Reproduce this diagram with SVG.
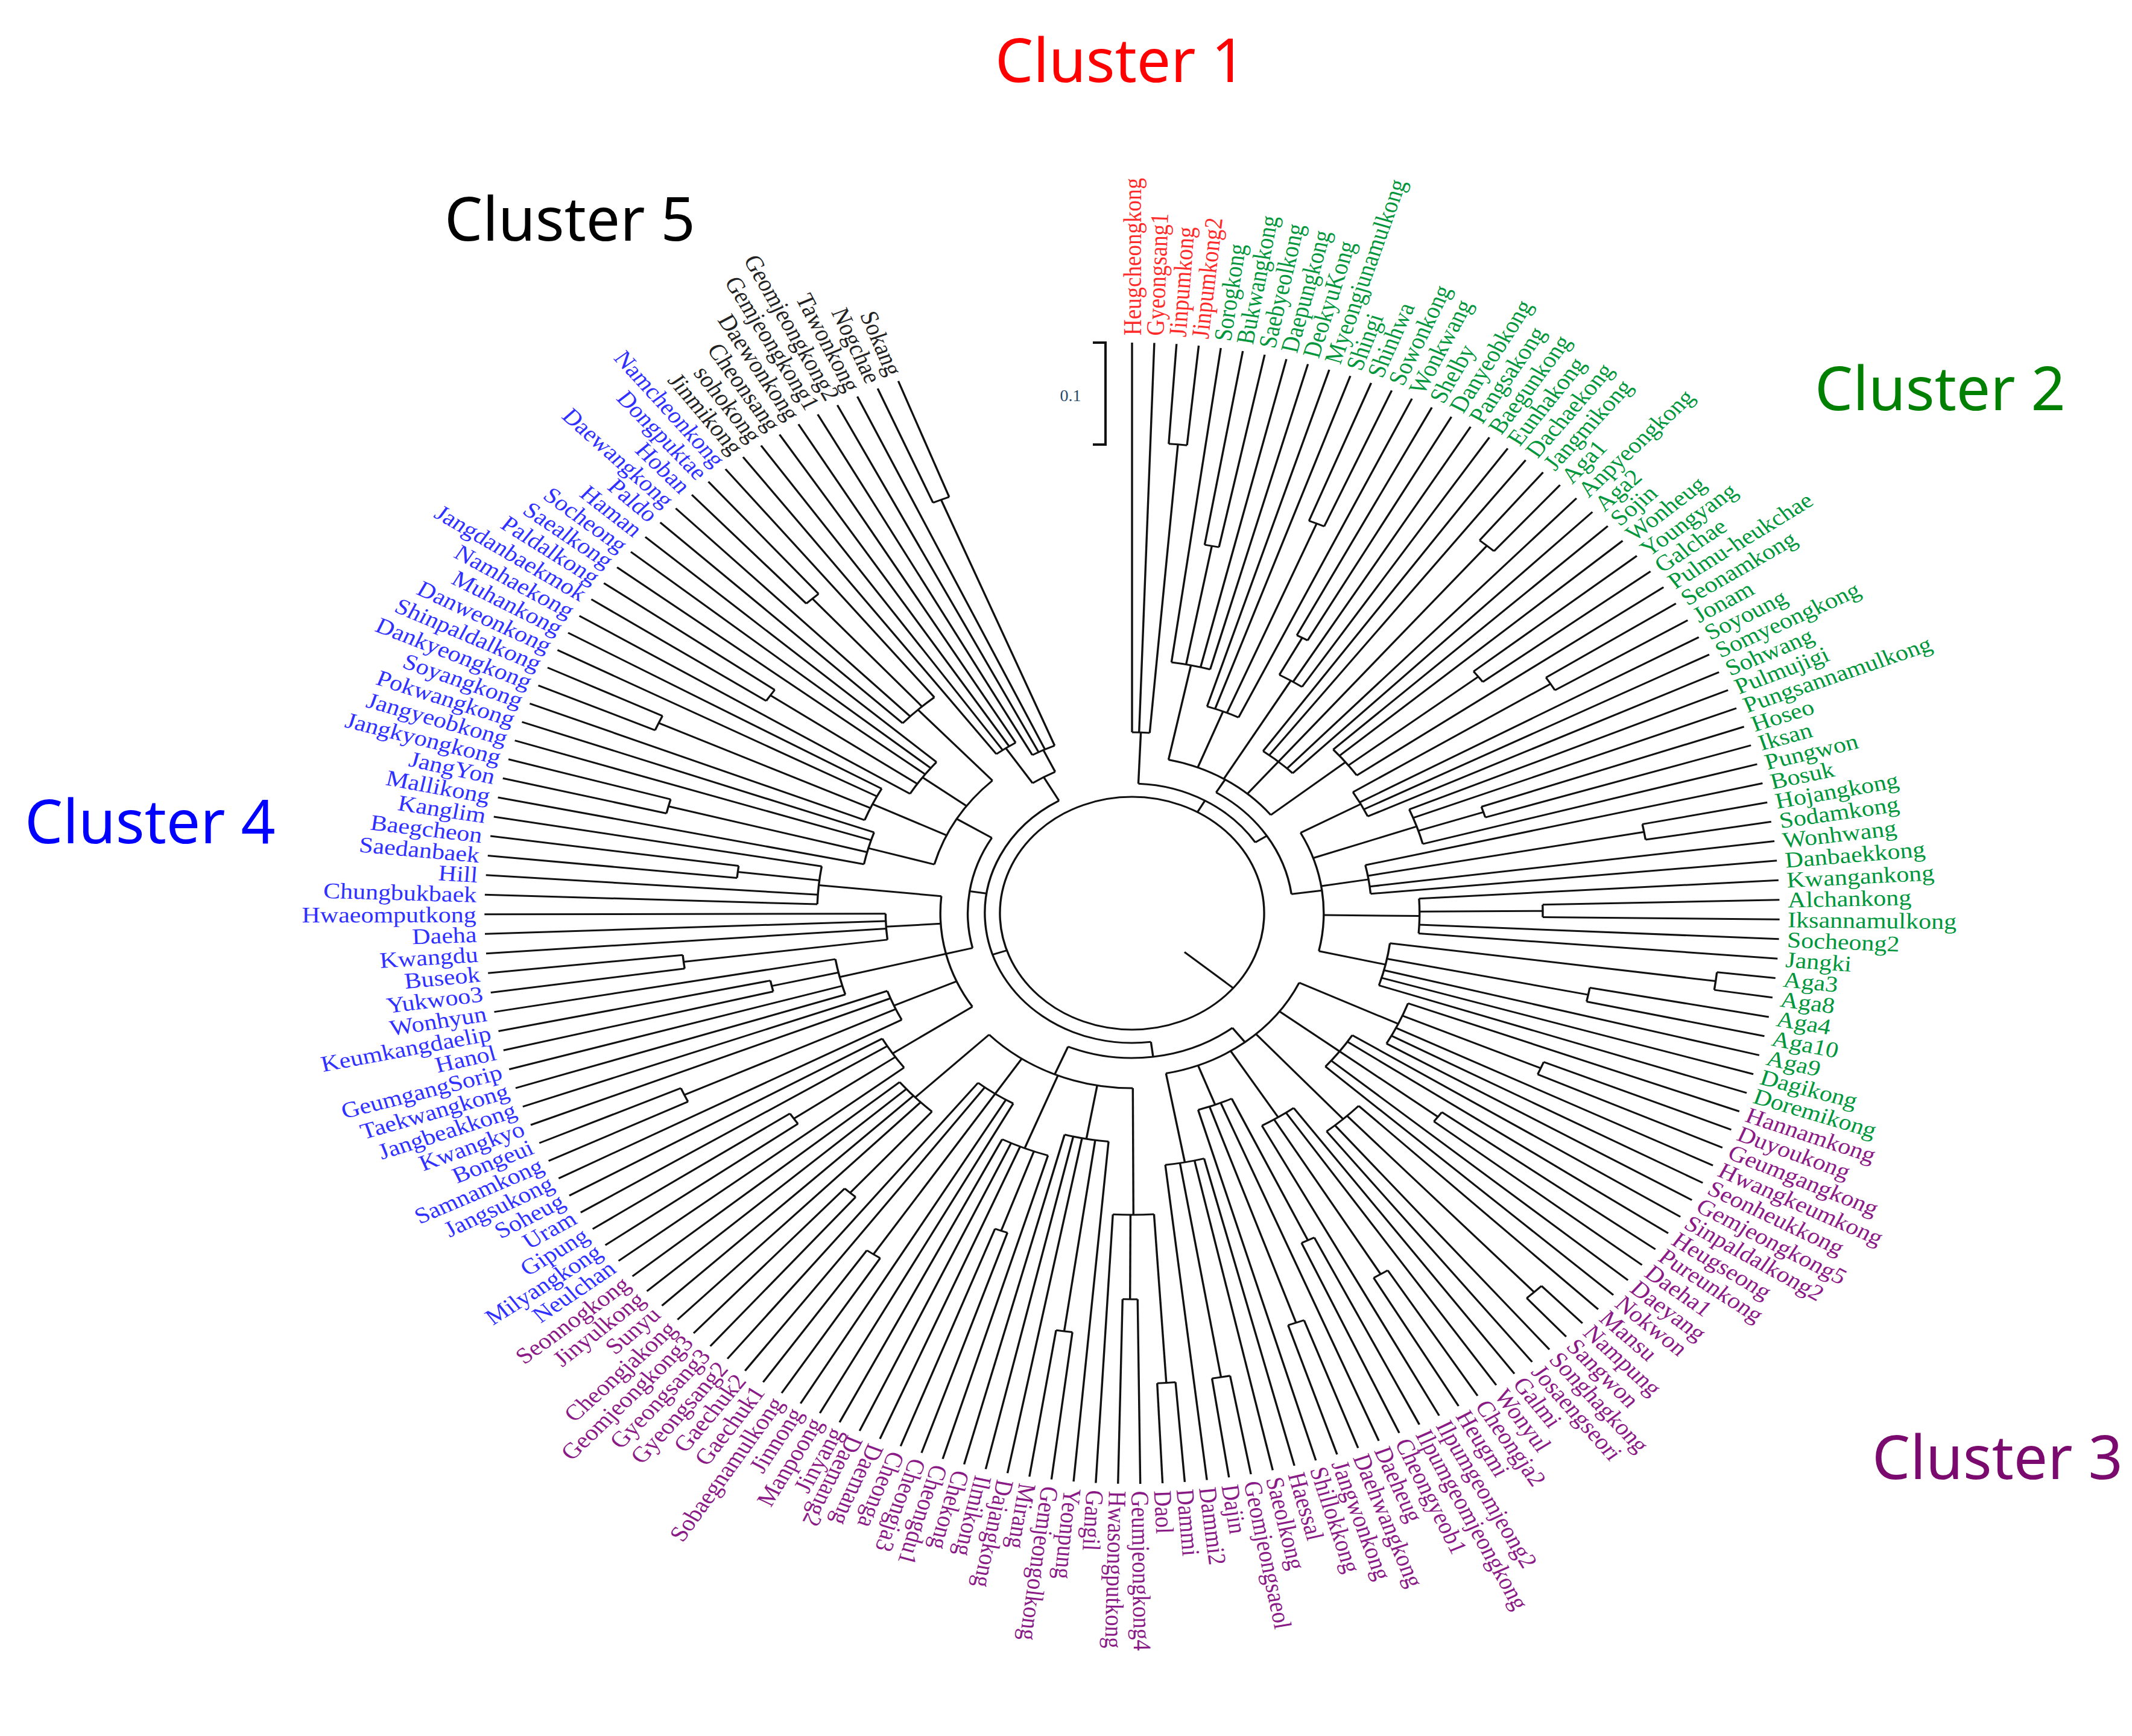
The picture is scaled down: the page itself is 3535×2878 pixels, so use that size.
<svg xmlns="http://www.w3.org/2000/svg" width="3535" height="2878" viewBox="0 0 3535 2878">
<style>
.t{font-family:"Liberation Serif","Times New Roman",serif;font-size:37px}
.L{text-anchor:end}
.k1{fill:#ff2a2a}.k2{fill:#00963c}.k3{fill:#8a1a85}.k4{fill:#3030ff}.k5{fill:#222}
.ct{font-family:"Noto Sans","Open Sans",sans-serif;font-size:100px}
#conn line,#conn circle{stroke:#111;stroke-width:3;fill:none}
</style>
<rect width="3535" height="2878" fill="#fff"/>
<text class="ct" x="1650" y="136" fill="#ff0000">Cluster 1</text>
<text class="ct" x="737" y="399" fill="#000">Cluster 5</text>
<text class="ct" x="3009" y="680" fill="#008000">Cluster 2</text>
<text class="ct" x="41" y="1398" fill="#0000ff">Cluster 4</text>
<text class="ct" x="3104" y="2452" fill="#7a0a6e">Cluster 3</text>
<g id="scalebar" stroke="#111" stroke-width="4" fill="none">
<path d="M1812 568H1833V737H1812"/>
</g>
<text x="1775" y="665" font-family="Liberation Serif,serif" font-size="28" fill="#2a4a6a" text-anchor="middle">0.1</text>
<g transform="translate(1877 1514) scale(1.135 1)">
<g id="conn">
<circle r="193"/>
<line transform="rotate(130)" y1="-100" y2="-193"/>
<line transform="rotate(0)" y1="-946" y2="-300"/><line transform="rotate(1.97)" y1="-946" y2="-300"/><line transform="rotate(3.94)" y1="-946" y2="-780"/><line transform="rotate(5.91)" y1="-946" y2="-780"/>
<line transform="rotate(7.88)" y1="-946" y2="-420"/><line transform="rotate(9.85)" y1="-946" y2="-620"/><line transform="rotate(11.82)" y1="-946" y2="-620"/><line transform="rotate(13.79)" y1="-946" y2="-420"/><line transform="rotate(15.76)" y1="-946" y2="-420"/>
<line transform="rotate(17.73)" y1="-946" y2="-360"/><line transform="rotate(19.7)" y1="-946" y2="-360"/><line transform="rotate(21.67)" y1="-946" y2="-700"/><line transform="rotate(23.64)" y1="-946" y2="-700"/><line transform="rotate(25.61)" y1="-946" y2="-360"/>
<line transform="rotate(27.58)" y1="-946" y2="-520"/><line transform="rotate(29.55)" y1="-946" y2="-520"/><line transform="rotate(31.52)" y1="-946" y2="-450"/><line transform="rotate(33.49)" y1="-946" y2="-450"/>
<line transform="rotate(35.46)" y1="-946" y2="-330"/><line transform="rotate(37.43)" y1="-946" y2="-330"/><line transform="rotate(39.4)" y1="-946" y2="-800"/><line transform="rotate(41.37)" y1="-946" y2="-800"/><line transform="rotate(43.34)" y1="-946" y2="-330"/><line transform="rotate(45.31)" y1="-946" y2="-330"/>
<line transform="rotate(47.28)" y1="-946" y2="-400"/><line transform="rotate(49.25)" y1="-946" y2="-400"/><line transform="rotate(51.22)" y1="-946" y2="-640"/><line transform="rotate(53.19)" y1="-946" y2="-640"/><line transform="rotate(55.16)" y1="-946" y2="-400"/>
<line transform="rotate(57.13)" y1="-946" y2="-720"/><line transform="rotate(59.1)" y1="-946" y2="-720"/><line transform="rotate(61.07)" y1="-946" y2="-380"/><line transform="rotate(63.04)" y1="-946" y2="-380"/><line transform="rotate(65.01)" y1="-946" y2="-380"/>
<line transform="rotate(66.98)" y1="-946" y2="-440"/><line transform="rotate(68.95)" y1="-946" y2="-440"/><line transform="rotate(70.92)" y1="-946" y2="-540"/><line transform="rotate(72.89)" y1="-946" y2="-540"/><line transform="rotate(74.86)" y1="-946" y2="-440"/>
<line transform="rotate(76.83)" y1="-946" y2="-350"/><line transform="rotate(78.8)" y1="-946" y2="-760"/><line transform="rotate(80.77)" y1="-946" y2="-760"/><line transform="rotate(82.74)" y1="-946" y2="-350"/><line transform="rotate(84.71)" y1="-946" y2="-350"/>
<line transform="rotate(86.68)" y1="-946" y2="-420"/><line transform="rotate(88.65)" y1="-946" y2="-600"/><line transform="rotate(90.62)" y1="-946" y2="-600"/><line transform="rotate(92.59)" y1="-946" y2="-420"/><line transform="rotate(94.56)" y1="-946" y2="-420"/>
<line transform="rotate(96.53)" y1="-946" y2="-860"/><line transform="rotate(98.5)" y1="-946" y2="-860"/><line transform="rotate(100.47)" y1="-946" y2="-680"/><line transform="rotate(102.44)" y1="-946" y2="-680"/><line transform="rotate(104.41)" y1="-946" y2="-380"/><line transform="rotate(106.38)" y1="-946" y2="-380"/><line transform="rotate(108.35)" y1="-946" y2="-380"/>
<line transform="rotate(110.32)" y1="-946" y2="-430"/><line transform="rotate(112.29)" y1="-946" y2="-650"/><line transform="rotate(114.26)" y1="-946" y2="-650"/><line transform="rotate(116.23)" y1="-946" y2="-430"/><line transform="rotate(118.2)" y1="-946" y2="-430"/><line transform="rotate(120.17)" y1="-946" y2="-430"/>
<line transform="rotate(122.14)" y1="-946" y2="-380"/><line transform="rotate(124.11)" y1="-946" y2="-380"/><line transform="rotate(126.08)" y1="-946" y2="-560"/><line transform="rotate(128.05)" y1="-946" y2="-560"/><line transform="rotate(130.02)" y1="-946" y2="-380"/><line transform="rotate(131.99)" y1="-946" y2="-380"/>
<line transform="rotate(133.96)" y1="-946" y2="-460"/><line transform="rotate(135.93)" y1="-946" y2="-860"/><line transform="rotate(137.9)" y1="-946" y2="-860"/><line transform="rotate(139.87)" y1="-946" y2="-460"/><line transform="rotate(141.84)" y1="-946" y2="-460"/>
<line transform="rotate(143.81)" y1="-946" y2="-400"/><line transform="rotate(145.78)" y1="-946" y2="-400"/><line transform="rotate(147.75)" y1="-946" y2="-700"/><line transform="rotate(149.72)" y1="-946" y2="-700"/><line transform="rotate(151.69)" y1="-946" y2="-400"/>
<line transform="rotate(153.66)" y1="-946" y2="-600"/><line transform="rotate(155.63)" y1="-946" y2="-600"/><line transform="rotate(157.6)" y1="-946" y2="-340"/><line transform="rotate(159.57)" y1="-946" y2="-720"/><line transform="rotate(161.54)" y1="-946" y2="-720"/><line transform="rotate(163.51)" y1="-946" y2="-340"/>
<line transform="rotate(165.48)" y1="-946" y2="-420"/><line transform="rotate(167.45)" y1="-946" y2="-420"/><line transform="rotate(169.42)" y1="-946" y2="-780"/><line transform="rotate(171.39)" y1="-946" y2="-780"/><line transform="rotate(173.36)" y1="-946" y2="-420"/>
<line transform="rotate(175.33)" y1="-946" y2="-780"/><line transform="rotate(177.3)" y1="-946" y2="-780"/><line transform="rotate(179.27)" y1="-946" y2="-640"/><line transform="rotate(181.24)" y1="-946" y2="-640"/><line transform="rotate(183.21)" y1="-946" y2="-500"/>
<line transform="rotate(185.18)" y1="-946" y2="-380"/><line transform="rotate(187.15)" y1="-946" y2="-700"/><line transform="rotate(189.12)" y1="-946" y2="-700"/><line transform="rotate(191.09)" y1="-946" y2="-380"/><line transform="rotate(193.06)" y1="-946" y2="-380"/><line transform="rotate(195.03)" y1="-946" y2="-380"/>
<line transform="rotate(197)" y1="-946" y2="-420"/><line transform="rotate(198.97)" y1="-946" y2="-560"/><line transform="rotate(200.94)" y1="-946" y2="-560"/><line transform="rotate(202.91)" y1="-946" y2="-420"/><line transform="rotate(204.88)" y1="-946" y2="-420"/><line transform="rotate(206.85)" y1="-946" y2="-420"/>
<line transform="rotate(208.82)" y1="-946" y2="-360"/><line transform="rotate(210.79)" y1="-946" y2="-360"/><line transform="rotate(212.76)" y1="-946" y2="-680"/><line transform="rotate(214.73)" y1="-946" y2="-680"/><line transform="rotate(216.7)" y1="-946" y2="-360"/><line transform="rotate(218.67)" y1="-946" y2="-360"/>
<line transform="rotate(220.64)" y1="-946" y2="-620"/><line transform="rotate(222.61)" y1="-946" y2="-620"/><line transform="rotate(224.58)" y1="-946" y2="-440"/><line transform="rotate(226.55)" y1="-946" y2="-440"/><line transform="rotate(228.52)" y1="-946" y2="-440"/><line transform="rotate(230.49)" y1="-946" y2="-440"/>
<line transform="rotate(232.46)" y1="-946" y2="-420"/><line transform="rotate(234.43)" y1="-946" y2="-600"/><line transform="rotate(236.4)" y1="-946" y2="-600"/><line transform="rotate(238.37)" y1="-946" y2="-420"/><line transform="rotate(240.34)" y1="-946" y2="-420"/>
<line transform="rotate(242.31)" y1="-946" y2="-380"/><line transform="rotate(244.28)" y1="-946" y2="-720"/><line transform="rotate(246.25)" y1="-946" y2="-720"/><line transform="rotate(248.22)" y1="-946" y2="-380"/><line transform="rotate(250.19)" y1="-946" y2="-380"/>
<line transform="rotate(252.16)" y1="-946" y2="-440"/><line transform="rotate(254.13)" y1="-946" y2="-440"/><line transform="rotate(256.1)" y1="-946" y2="-540"/><line transform="rotate(258.07)" y1="-946" y2="-540"/><line transform="rotate(260.04)" y1="-946" y2="-440"/>
<line transform="rotate(262.01)" y1="-946" y2="-660"/><line transform="rotate(263.98)" y1="-946" y2="-660"/><line transform="rotate(265.95)" y1="-946" y2="-360"/><line transform="rotate(267.92)" y1="-946" y2="-360"/><line transform="rotate(269.89)" y1="-946" y2="-360"/>
<line transform="rotate(271.86)" y1="-946" y2="-460"/><line transform="rotate(273.83)" y1="-946" y2="-460"/><line transform="rotate(275.8)" y1="-946" y2="-580"/><line transform="rotate(277.77)" y1="-946" y2="-580"/><line transform="rotate(279.74)" y1="-946" y2="-460"/>
<line transform="rotate(281.71)" y1="-946" y2="-400"/><line transform="rotate(283.68)" y1="-946" y2="-700"/><line transform="rotate(285.65)" y1="-946" y2="-700"/><line transform="rotate(287.62)" y1="-946" y2="-400"/><line transform="rotate(289.59)" y1="-946" y2="-400"/>
<line transform="rotate(291.56)" y1="-946" y2="-420"/><line transform="rotate(293.53)" y1="-946" y2="-760"/><line transform="rotate(295.5)" y1="-946" y2="-760"/><line transform="rotate(297.47)" y1="-946" y2="-420"/><line transform="rotate(299.44)" y1="-946" y2="-420"/>
<line transform="rotate(301.41)" y1="-946" y2="-380"/><line transform="rotate(303.38)" y1="-946" y2="-640"/><line transform="rotate(305.35)" y1="-946" y2="-640"/><line transform="rotate(307.32)" y1="-946" y2="-380"/><line transform="rotate(309.29)" y1="-946" y2="-380"/><line transform="rotate(311.26)" y1="-946" y2="-380"/>
<line transform="rotate(313.23)" y1="-946" y2="-460"/><line transform="rotate(315.2)" y1="-946" y2="-460"/><line transform="rotate(317.17)" y1="-946" y2="-700"/><line transform="rotate(319.14)" y1="-946" y2="-700"/><line transform="rotate(321.11)" y1="-946" y2="-460"/>
<line transform="rotate(323.08)" y1="-946" y2="-330"/><line transform="rotate(325.05)" y1="-946" y2="-330"/><line transform="rotate(327.02)" y1="-946" y2="-330"/><line transform="rotate(328.99)" y1="-946" y2="-330"/><line transform="rotate(330.96)" y1="-946" y2="-300"/><line transform="rotate(332.93)" y1="-946" y2="-300"/><line transform="rotate(334.9)" y1="-946" y2="-300"/><line transform="rotate(336.87)" y1="-946" y2="-740"/><line transform="rotate(338.84)" y1="-946" y2="-740"/>
<circle r="780" pathLength="360" stroke-dasharray="1.97 400" transform="rotate(3.94) rotate(-90)"/><line transform="rotate(4.93)" y1="-780" y2="-300"/>
<circle r="620" pathLength="360" stroke-dasharray="1.97 400" transform="rotate(9.85) rotate(-90)"/><line transform="rotate(10.84)" y1="-620" y2="-420"/>
<circle r="700" pathLength="360" stroke-dasharray="1.97 400" transform="rotate(21.67) rotate(-90)"/><line transform="rotate(22.66)" y1="-700" y2="-360"/>
<circle r="520" pathLength="360" stroke-dasharray="1.97 400" transform="rotate(27.58) rotate(-90)"/><line transform="rotate(28.57)" y1="-520" y2="-450"/>
<circle r="800" pathLength="360" stroke-dasharray="1.97 400" transform="rotate(39.4) rotate(-90)"/><line transform="rotate(40.39)" y1="-800" y2="-330"/>
<circle r="640" pathLength="360" stroke-dasharray="1.97 400" transform="rotate(51.22) rotate(-90)"/><line transform="rotate(52.21)" y1="-640" y2="-400"/>
<circle r="720" pathLength="360" stroke-dasharray="1.97 400" transform="rotate(57.13) rotate(-90)"/><line transform="rotate(58.12)" y1="-720" y2="-380"/>
<circle r="540" pathLength="360" stroke-dasharray="1.97 400" transform="rotate(70.92) rotate(-90)"/><line transform="rotate(71.91)" y1="-540" y2="-440"/>
<circle r="760" pathLength="360" stroke-dasharray="1.97 400" transform="rotate(78.8) rotate(-90)"/><line transform="rotate(79.79)" y1="-760" y2="-350"/>
<circle r="600" pathLength="360" stroke-dasharray="1.97 400" transform="rotate(88.65) rotate(-90)"/><line transform="rotate(89.64)" y1="-600" y2="-420"/>
<circle r="860" pathLength="360" stroke-dasharray="1.97 400" transform="rotate(96.53) rotate(-90)"/><line transform="rotate(97.52)" y1="-860" y2="-380"/>
<circle r="680" pathLength="360" stroke-dasharray="1.97 400" transform="rotate(100.47) rotate(-90)"/><line transform="rotate(101.46)" y1="-680" y2="-380"/>
<circle r="650" pathLength="360" stroke-dasharray="1.97 400" transform="rotate(112.29) rotate(-90)"/><line transform="rotate(113.28)" y1="-650" y2="-430"/>
<circle r="560" pathLength="360" stroke-dasharray="1.97 400" transform="rotate(126.08) rotate(-90)"/><line transform="rotate(127.07)" y1="-560" y2="-380"/>
<circle r="860" pathLength="360" stroke-dasharray="1.97 400" transform="rotate(135.93) rotate(-90)"/><line transform="rotate(136.92)" y1="-860" y2="-460"/>
<circle r="700" pathLength="360" stroke-dasharray="1.97 400" transform="rotate(147.75) rotate(-90)"/><line transform="rotate(148.74)" y1="-700" y2="-400"/>
<circle r="600" pathLength="360" stroke-dasharray="1.97 400" transform="rotate(153.66) rotate(-90)"/><line transform="rotate(154.65)" y1="-600" y2="-340"/>
<circle r="720" pathLength="360" stroke-dasharray="1.97 400" transform="rotate(159.57) rotate(-90)"/><line transform="rotate(160.56)" y1="-720" y2="-340"/>
<circle r="780" pathLength="360" stroke-dasharray="1.97 400" transform="rotate(169.42) rotate(-90)"/><line transform="rotate(170.41)" y1="-780" y2="-420"/>
<circle r="780" pathLength="360" stroke-dasharray="1.97 400" transform="rotate(175.33) rotate(-90)"/><line transform="rotate(176.32)" y1="-780" y2="-500"/>
<circle r="640" pathLength="360" stroke-dasharray="1.97 400" transform="rotate(179.27) rotate(-90)"/><line transform="rotate(180.26)" y1="-640" y2="-500"/>
<circle r="700" pathLength="360" stroke-dasharray="1.97 400" transform="rotate(187.15) rotate(-90)"/><line transform="rotate(188.14)" y1="-700" y2="-380"/>
<circle r="560" pathLength="360" stroke-dasharray="1.97 400" transform="rotate(198.97) rotate(-90)"/><line transform="rotate(199.96)" y1="-560" y2="-420"/>
<circle r="680" pathLength="360" stroke-dasharray="1.97 400" transform="rotate(212.76) rotate(-90)"/><line transform="rotate(213.75)" y1="-680" y2="-360"/>
<circle r="620" pathLength="360" stroke-dasharray="1.97 400" transform="rotate(220.64) rotate(-90)"/><line transform="rotate(221.63)" y1="-620" y2="-440"/>
<circle r="600" pathLength="360" stroke-dasharray="1.97 400" transform="rotate(234.43) rotate(-90)"/><line transform="rotate(235.42)" y1="-600" y2="-420"/>
<circle r="720" pathLength="360" stroke-dasharray="1.97 400" transform="rotate(244.28) rotate(-90)"/><line transform="rotate(245.27)" y1="-720" y2="-380"/>
<circle r="540" pathLength="360" stroke-dasharray="1.97 400" transform="rotate(256.1) rotate(-90)"/><line transform="rotate(257.09)" y1="-540" y2="-440"/>
<circle r="660" pathLength="360" stroke-dasharray="1.97 400" transform="rotate(262.01) rotate(-90)"/><line transform="rotate(263)" y1="-660" y2="-360"/>
<circle r="580" pathLength="360" stroke-dasharray="1.97 400" transform="rotate(275.8) rotate(-90)"/><line transform="rotate(276.79)" y1="-580" y2="-460"/>
<circle r="700" pathLength="360" stroke-dasharray="1.97 400" transform="rotate(283.68) rotate(-90)"/><line transform="rotate(284.67)" y1="-700" y2="-400"/>
<circle r="760" pathLength="360" stroke-dasharray="1.97 400" transform="rotate(293.53) rotate(-90)"/><line transform="rotate(294.52)" y1="-760" y2="-420"/>
<circle r="640" pathLength="360" stroke-dasharray="1.97 400" transform="rotate(303.38) rotate(-90)"/><line transform="rotate(304.37)" y1="-640" y2="-380"/>
<circle r="700" pathLength="360" stroke-dasharray="1.97 400" transform="rotate(317.17) rotate(-90)"/><line transform="rotate(318.16)" y1="-700" y2="-460"/>
<circle r="740" pathLength="360" stroke-dasharray="1.97 400" transform="rotate(336.87) rotate(-90)"/><line transform="rotate(337.86)" y1="-740" y2="-300"/>
<circle r="300" pathLength="360" stroke-dasharray="4.93 400" transform="rotate(0) rotate(-90)"/><line transform="rotate(2.46)" y1="-300" y2="-215"/>
<circle r="420" pathLength="360" stroke-dasharray="7.88 400" transform="rotate(7.88) rotate(-90)"/><line transform="rotate(11.82)" y1="-420" y2="-260"/>
<circle r="360" pathLength="360" stroke-dasharray="7.88 400" transform="rotate(17.73) rotate(-90)"/><line transform="rotate(21.67)" y1="-360" y2="-260"/>
<circle r="450" pathLength="360" stroke-dasharray="4.92 400" transform="rotate(28.57) rotate(-90)"/><line transform="rotate(31.03)" y1="-450" y2="-260"/>
<circle r="330" pathLength="360" stroke-dasharray="9.85 400" transform="rotate(35.46) rotate(-90)"/><line transform="rotate(40.39)" y1="-330" y2="-260"/>
<circle r="400" pathLength="360" stroke-dasharray="7.88 400" transform="rotate(47.28) rotate(-90)"/><line transform="rotate(51.22)" y1="-400" y2="-260"/>
<circle r="380" pathLength="360" stroke-dasharray="6.89 400" transform="rotate(58.12) rotate(-90)"/><line transform="rotate(61.56)" y1="-380" y2="-280"/>
<circle r="440" pathLength="360" stroke-dasharray="7.88 400" transform="rotate(66.98) rotate(-90)"/><line transform="rotate(70.92)" y1="-440" y2="-280"/>
<circle r="350" pathLength="360" stroke-dasharray="7.88 400" transform="rotate(76.83) rotate(-90)"/><line transform="rotate(80.77)" y1="-350" y2="-280"/>
<circle r="420" pathLength="360" stroke-dasharray="7.88 400" transform="rotate(86.68) rotate(-90)"/><line transform="rotate(90.62)" y1="-420" y2="-280"/>
<circle r="380" pathLength="360" stroke-dasharray="10.83 400" transform="rotate(97.52) rotate(-90)"/><line transform="rotate(102.94)" y1="-380" y2="-280"/>
<circle r="260" pathLength="360" stroke-dasharray="39.4 400" transform="rotate(11.82) rotate(-90)"/><line transform="rotate(31.52)" y1="-260" y2="-235"/>
<circle r="280" pathLength="360" stroke-dasharray="41.38 400" transform="rotate(61.56) rotate(-90)"/><line transform="rotate(82.25)" y1="-280" y2="-235"/>
<circle r="235" pathLength="360" stroke-dasharray="50.73 400" transform="rotate(31.52) rotate(-90)"/><line transform="rotate(56.89)" y1="-235" y2="-215"/>
<circle r="215" pathLength="360" stroke-dasharray="54.43 400" transform="rotate(2.46) rotate(-90)"/><line transform="rotate(29.7)" y1="-215" y2="-193"/>
<circle r="430" pathLength="360" stroke-dasharray="9.85 400" transform="rotate(110.32) rotate(-90)"/><line transform="rotate(115.25)" y1="-430" y2="-270"/>
<circle r="380" pathLength="360" stroke-dasharray="9.85 400" transform="rotate(122.14) rotate(-90)"/><line transform="rotate(127.07)" y1="-380" y2="-270"/>
<circle r="460" pathLength="360" stroke-dasharray="7.88 400" transform="rotate(133.96) rotate(-90)"/><line transform="rotate(137.9)" y1="-460" y2="-270"/>
<circle r="400" pathLength="360" stroke-dasharray="7.88 400" transform="rotate(143.81) rotate(-90)"/><line transform="rotate(147.75)" y1="-400" y2="-270"/>
<circle r="340" pathLength="360" stroke-dasharray="8.86 400" transform="rotate(154.65) rotate(-90)"/><line transform="rotate(159.08)" y1="-340" y2="-270"/>
<circle r="420" pathLength="360" stroke-dasharray="7.88 400" transform="rotate(165.48) rotate(-90)"/><line transform="rotate(169.42)" y1="-420" y2="-270"/>
<circle r="500" pathLength="360" stroke-dasharray="6.89 400" transform="rotate(176.32) rotate(-90)"/><line transform="rotate(179.77)" y1="-500" y2="-290"/>
<circle r="380" pathLength="360" stroke-dasharray="9.85 400" transform="rotate(185.18) rotate(-90)"/><line transform="rotate(190.11)" y1="-380" y2="-290"/>
<circle r="420" pathLength="360" stroke-dasharray="9.85 400" transform="rotate(197) rotate(-90)"/><line transform="rotate(201.93)" y1="-420" y2="-290"/>
<circle r="360" pathLength="360" stroke-dasharray="9.85 400" transform="rotate(208.82) rotate(-90)"/><line transform="rotate(213.75)" y1="-360" y2="-290"/>
<circle r="440" pathLength="360" stroke-dasharray="8.86 400" transform="rotate(221.63) rotate(-90)"/><line transform="rotate(226.06)" y1="-440" y2="-290"/>
<circle r="270" pathLength="360" stroke-dasharray="54.17 400" transform="rotate(115.25) rotate(-90)"/><line transform="rotate(142.34)" y1="-270" y2="-240"/>
<circle r="290" pathLength="360" stroke-dasharray="46.29 400" transform="rotate(179.77) rotate(-90)"/><line transform="rotate(202.92)" y1="-290" y2="-240"/>
<circle r="240" pathLength="360" stroke-dasharray="60.58 400" transform="rotate(142.34) rotate(-90)"/><line transform="rotate(172.63)" y1="-240" y2="-215"/>
<circle r="420" pathLength="360" stroke-dasharray="7.88 400" transform="rotate(232.46) rotate(-90)"/><line transform="rotate(236.4)" y1="-420" y2="-280"/>
<circle r="380" pathLength="360" stroke-dasharray="7.88 400" transform="rotate(242.31) rotate(-90)"/><line transform="rotate(246.25)" y1="-380" y2="-280"/>
<circle r="440" pathLength="360" stroke-dasharray="7.88 400" transform="rotate(252.16) rotate(-90)"/><line transform="rotate(256.1)" y1="-440" y2="-280"/>
<circle r="360" pathLength="360" stroke-dasharray="6.89 400" transform="rotate(263) rotate(-90)"/><line transform="rotate(266.45)" y1="-360" y2="-280"/>
<circle r="460" pathLength="360" stroke-dasharray="7.88 400" transform="rotate(271.86) rotate(-90)"/><line transform="rotate(275.8)" y1="-460" y2="-280"/>
<circle r="400" pathLength="360" stroke-dasharray="7.88 400" transform="rotate(281.71) rotate(-90)"/><line transform="rotate(285.65)" y1="-400" y2="-300"/>
<circle r="420" pathLength="360" stroke-dasharray="7.88 400" transform="rotate(291.56) rotate(-90)"/><line transform="rotate(295.5)" y1="-420" y2="-300"/>
<circle r="380" pathLength="360" stroke-dasharray="9.85 400" transform="rotate(301.41) rotate(-90)"/><line transform="rotate(306.34)" y1="-380" y2="-300"/>
<circle r="460" pathLength="360" stroke-dasharray="7.88 400" transform="rotate(313.23) rotate(-90)"/><line transform="rotate(317.17)" y1="-460" y2="-300"/>
<circle r="280" pathLength="360" stroke-dasharray="39.4 400" transform="rotate(236.4) rotate(-90)"/><line transform="rotate(256.1)" y1="-280" y2="-240"/>
<circle r="300" pathLength="360" stroke-dasharray="31.52 400" transform="rotate(285.65) rotate(-90)"/><line transform="rotate(301.41)" y1="-300" y2="-240"/>
<circle r="240" pathLength="360" stroke-dasharray="45.31 400" transform="rotate(256.1) rotate(-90)"/><line transform="rotate(278.76)" y1="-240" y2="-215"/>
<circle r="330" pathLength="360" stroke-dasharray="5.91 400" transform="rotate(323.08) rotate(-90)"/><line transform="rotate(326.04)" y1="-330" y2="-260"/>
<circle r="300" pathLength="360" stroke-dasharray="6.9 400" transform="rotate(330.96) rotate(-90)"/><line transform="rotate(334.41)" y1="-300" y2="-260"/>
<circle r="260" pathLength="360" stroke-dasharray="8.37 400" transform="rotate(326.04) rotate(-90)"/><line transform="rotate(330.23)" y1="-260" y2="-215"/>
<circle r="215" pathLength="360" stroke-dasharray="157.6 400" transform="rotate(172.63) rotate(-90)"/><line transform="rotate(251.4)" y1="-215" y2="-193"/>
</g>
<g id="nodes" class="t">
<g id="n-Heugcheongkong"><text class="k1" transform="rotate(0) rotate(-90)" x="958" y="13">Heugcheongkong</text></g>
<g id="n-Gyeongsang1"><text class="k1" transform="rotate(1.97) rotate(-90)" x="958" y="13">Gyeongsang1</text></g>
<g id="n-Jinpumkong"><text class="k1" transform="rotate(3.94) rotate(-90)" x="958" y="13">Jinpumkong</text></g>
<g id="n-Jinpumkong2"><text class="k1" transform="rotate(5.91) rotate(-90)" x="958" y="13">Jinpumkong2</text></g>
<g id="n-Sorogkong"><text class="k2" transform="rotate(7.88) rotate(-90)" x="958" y="13">Sorogkong</text></g>
<g id="n-Bukwangkong"><text class="k2" transform="rotate(9.85) rotate(-90)" x="958" y="13">Bukwangkong</text></g>
<g id="n-Saebyeolkong"><text class="k2" transform="rotate(11.82) rotate(-90)" x="958" y="13">Saebyeolkong</text></g>
<g id="n-Daepungkong"><text class="k2" transform="rotate(13.79) rotate(-90)" x="958" y="13">Daepungkong</text></g>
<g id="n-DeokyuKong"><text class="k2" transform="rotate(15.76) rotate(-90)" x="958" y="13">DeokyuKong</text></g>
<g id="n-Myeongjunamulkong"><text class="k2" transform="rotate(17.73) rotate(-90)" x="958" y="13">Myeongjunamulkong</text></g>
<g id="n-Shingi"><text class="k2" transform="rotate(19.7) rotate(-90)" x="958" y="13">Shingi</text></g>
<g id="n-Shinhwa"><text class="k2" transform="rotate(21.67) rotate(-90)" x="958" y="13">Shinhwa</text></g>
<g id="n-Sowonkong"><text class="k2" transform="rotate(23.64) rotate(-90)" x="958" y="13">Sowonkong</text></g>
<g id="n-Wonkwang"><text class="k2" transform="rotate(25.61) rotate(-90)" x="958" y="13">Wonkwang</text></g>
<g id="n-Shelby"><text class="k2" transform="rotate(27.58) rotate(-90)" x="958" y="13">Shelby</text></g>
<g id="n-Danyeobkong"><text class="k2" transform="rotate(29.55) rotate(-90)" x="958" y="13">Danyeobkong</text></g>
<g id="n-Pangsakong"><text class="k2" transform="rotate(31.52) rotate(-90)" x="958" y="13">Pangsakong</text></g>
<g id="n-Baegunkong"><text class="k2" transform="rotate(33.49) rotate(-90)" x="958" y="13">Baegunkong</text></g>
<g id="n-Eunhakong"><text class="k2" transform="rotate(35.46) rotate(-90)" x="958" y="13">Eunhakong</text></g>
<g id="n-Dachaekong"><text class="k2" transform="rotate(37.43) rotate(-90)" x="958" y="13">Dachaekong</text></g>
<g id="n-Jangmikong"><text class="k2" transform="rotate(39.4) rotate(-90)" x="958" y="13">Jangmikong</text></g>
<g id="n-Aga1"><text class="k2" transform="rotate(41.37) rotate(-90)" x="958" y="13">Aga1</text></g>
<g id="n-Anpyeongkong"><text class="k2" transform="rotate(43.34) rotate(-90)" x="958" y="13">Anpyeongkong</text></g>
<g id="n-Aga2"><text class="k2" transform="rotate(45.31) rotate(-90)" x="958" y="13">Aga2</text></g>
<g id="n-Sojin"><text class="k2" transform="rotate(47.28) rotate(-90)" x="958" y="13">Sojin</text></g>
<g id="n-Wonheug"><text class="k2" transform="rotate(49.25) rotate(-90)" x="958" y="13">Wonheug</text></g>
<g id="n-Youngyang"><text class="k2" transform="rotate(51.22) rotate(-90)" x="958" y="13">Youngyang</text></g>
<g id="n-Galchae"><text class="k2" transform="rotate(53.19) rotate(-90)" x="958" y="13">Galchae</text></g>
<g id="n-Pulmu-heukchae"><text class="k2" transform="rotate(55.16) rotate(-90)" x="958" y="13">Pulmu-heukchae</text></g>
<g id="n-Seonamkong"><text class="k2" transform="rotate(57.13) rotate(-90)" x="958" y="13">Seonamkong</text></g>
<g id="n-Jonam"><text class="k2" transform="rotate(59.1) rotate(-90)" x="958" y="13">Jonam</text></g>
<g id="n-Soyoung"><text class="k2" transform="rotate(61.07) rotate(-90)" x="958" y="13">Soyoung</text></g>
<g id="n-Somyeongkong"><text class="k2" transform="rotate(63.04) rotate(-90)" x="958" y="13">Somyeongkong</text></g>
<g id="n-Sohwang"><text class="k2" transform="rotate(65.01) rotate(-90)" x="958" y="13">Sohwang</text></g>
<g id="n-Pulmujigi"><text class="k2" transform="rotate(66.98) rotate(-90)" x="958" y="13">Pulmujigi</text></g>
<g id="n-Pungsannamulkong"><text class="k2" transform="rotate(68.95) rotate(-90)" x="958" y="13">Pungsannamulkong</text></g>
<g id="n-Hoseo"><text class="k2" transform="rotate(70.92) rotate(-90)" x="958" y="13">Hoseo</text></g>
<g id="n-Iksan"><text class="k2" transform="rotate(72.89) rotate(-90)" x="958" y="13">Iksan</text></g>
<g id="n-Pungwon"><text class="k2" transform="rotate(74.86) rotate(-90)" x="958" y="13">Pungwon</text></g>
<g id="n-Bosuk"><text class="k2" transform="rotate(76.83) rotate(-90)" x="958" y="13">Bosuk</text></g>
<g id="n-Hojangkong"><text class="k2" transform="rotate(78.8) rotate(-90)" x="958" y="13">Hojangkong</text></g>
<g id="n-Sodamkong"><text class="k2" transform="rotate(80.77) rotate(-90)" x="958" y="13">Sodamkong</text></g>
<g id="n-Wonhwang"><text class="k2" transform="rotate(82.74) rotate(-90)" x="958" y="13">Wonhwang</text></g>
<g id="n-Danbaekkong"><text class="k2" transform="rotate(84.71) rotate(-90)" x="958" y="13">Danbaekkong</text></g>
<g id="n-Kwangankong"><text class="k2" transform="rotate(86.68) rotate(-90)" x="958" y="13">Kwangankong</text></g>
<g id="n-Alchankong"><text class="k2" transform="rotate(88.65) rotate(-90)" x="958" y="13">Alchankong</text></g>
<g id="n-Iksannamulkong"><text class="k2" transform="rotate(90.62) rotate(-90)" x="958" y="13">Iksannamulkong</text></g>
<g id="n-Socheong2"><text class="k2" transform="rotate(92.59) rotate(-90)" x="958" y="13">Socheong2</text></g>
<g id="n-Jangki"><text class="k2" transform="rotate(94.56) rotate(-90)" x="958" y="13">Jangki</text></g>
<g id="n-Aga3"><text class="k2" transform="rotate(96.53) rotate(-90)" x="958" y="13">Aga3</text></g>
<g id="n-Aga8"><text class="k2" transform="rotate(98.5) rotate(-90)" x="958" y="13">Aga8</text></g>
<g id="n-Aga4"><text class="k2" transform="rotate(100.47) rotate(-90)" x="958" y="13">Aga4</text></g>
<g id="n-Aga10"><text class="k2" transform="rotate(102.44) rotate(-90)" x="958" y="13">Aga10</text></g>
<g id="n-Aga9"><text class="k2" transform="rotate(104.41) rotate(-90)" x="958" y="13">Aga9</text></g>
<g id="n-Dagikong"><text class="k2" transform="rotate(106.38) rotate(-90)" x="958" y="13">Dagikong</text></g>
<g id="n-Doremikong"><text class="k2" transform="rotate(108.35) rotate(-90)" x="958" y="13">Doremikong</text></g>
<g id="n-Hannamkong"><text class="k3" transform="rotate(110.32) rotate(-90)" x="958" y="13">Hannamkong</text></g>
<g id="n-Duyoukong"><text class="k3" transform="rotate(112.29) rotate(-90)" x="958" y="13">Duyoukong</text></g>
<g id="n-Geumgangkong"><text class="k3" transform="rotate(114.26) rotate(-90)" x="958" y="13">Geumgangkong</text></g>
<g id="n-Hwangkeumkong"><text class="k3" transform="rotate(116.23) rotate(-90)" x="958" y="13">Hwangkeumkong</text></g>
<g id="n-Seonheukkong"><text class="k3" transform="rotate(118.2) rotate(-90)" x="958" y="13">Seonheukkong</text></g>
<g id="n-Gemjeongkong5"><text class="k3" transform="rotate(120.17) rotate(-90)" x="958" y="13">Gemjeongkong5</text></g>
<g id="n-Sinpaldalkong2"><text class="k3" transform="rotate(122.14) rotate(-90)" x="958" y="13">Sinpaldalkong2</text></g>
<g id="n-Heugseong"><text class="k3" transform="rotate(124.11) rotate(-90)" x="958" y="13">Heugseong</text></g>
<g id="n-Pureunkong"><text class="k3" transform="rotate(126.08) rotate(-90)" x="958" y="13">Pureunkong</text></g>
<g id="n-Daeha1"><text class="k3" transform="rotate(128.05) rotate(-90)" x="958" y="13">Daeha1</text></g>
<g id="n-Daeyang"><text class="k3" transform="rotate(130.02) rotate(-90)" x="958" y="13">Daeyang</text></g>
<g id="n-Nokwon"><text class="k3" transform="rotate(131.99) rotate(-90)" x="958" y="13">Nokwon</text></g>
<g id="n-Mansu"><text class="k3" transform="rotate(133.96) rotate(-90)" x="958" y="13">Mansu</text></g>
<g id="n-Nampung"><text class="k3" transform="rotate(135.93) rotate(-90)" x="958" y="13">Nampung</text></g>
<g id="n-Sangwon"><text class="k3" transform="rotate(137.9) rotate(-90)" x="958" y="13">Sangwon</text></g>
<g id="n-Songhagkong"><text class="k3" transform="rotate(139.87) rotate(-90)" x="958" y="13">Songhagkong</text></g>
<g id="n-Josaengseori"><text class="k3" transform="rotate(141.84) rotate(-90)" x="958" y="13">Josaengseori</text></g>
<g id="n-Galmi"><text class="k3" transform="rotate(143.81) rotate(-90)" x="958" y="13">Galmi</text></g>
<g id="n-Wonyul"><text class="k3" transform="rotate(145.78) rotate(-90)" x="958" y="13">Wonyul</text></g>
<g id="n-Cheongja2"><text class="k3" transform="rotate(147.75) rotate(-90)" x="958" y="13">Cheongja2</text></g>
<g id="n-Heugmi"><text class="k3" transform="rotate(149.72) rotate(-90)" x="958" y="13">Heugmi</text></g>
<g id="n-Ilpumgeomjeong2"><text class="k3" transform="rotate(151.69) rotate(-90)" x="958" y="13">Ilpumgeomjeong2</text></g>
<g id="n-Ilpumgeomjeongkong"><text class="k3" transform="rotate(153.66) rotate(-90)" x="958" y="13">Ilpumgeomjeongkong</text></g>
<g id="n-Cheongyeob1"><text class="k3" transform="rotate(155.63) rotate(-90)" x="958" y="13">Cheongyeob1</text></g>
<g id="n-Daeheug"><text class="k3" transform="rotate(157.6) rotate(-90)" x="958" y="13">Daeheug</text></g>
<g id="n-Daehwangkong"><text class="k3" transform="rotate(159.57) rotate(-90)" x="958" y="13">Daehwangkong</text></g>
<g id="n-Jangwonkong"><text class="k3" transform="rotate(161.54) rotate(-90)" x="958" y="13">Jangwonkong</text></g>
<g id="n-Shillokkong"><text class="k3" transform="rotate(163.51) rotate(-90)" x="958" y="13">Shillokkong</text></g>
<g id="n-Haessal"><text class="k3" transform="rotate(165.48) rotate(-90)" x="958" y="13">Haessal</text></g>
<g id="n-Saeolkong"><text class="k3" transform="rotate(167.45) rotate(-90)" x="958" y="13">Saeolkong</text></g>
<g id="n-Geomjeongsaeol"><text class="k3" transform="rotate(169.42) rotate(-90)" x="958" y="13">Geomjeongsaeol</text></g>
<g id="n-Dajin"><text class="k3" transform="rotate(171.39) rotate(-90)" x="958" y="13">Dajin</text></g>
<g id="n-Dammi2"><text class="k3" transform="rotate(173.36) rotate(-90)" x="958" y="13">Dammi2</text></g>
<g id="n-Dammi"><text class="k3" transform="rotate(175.33) rotate(-90)" x="958" y="13">Dammi</text></g>
<g id="n-Daol"><text class="k3" transform="rotate(177.3) rotate(-90)" x="958" y="13">Daol</text></g>
<g id="n-Geumjeongkong4"><text class="k3" transform="rotate(179.27) rotate(-90)" x="958" y="13">Geumjeongkong4</text></g>
<g id="n-Hwasongputkong"><text class="k3" transform="rotate(181.24) rotate(-90)" x="958" y="13">Hwasongputkong</text></g>
<g id="n-Gangil"><text class="k3" transform="rotate(183.21) rotate(-90)" x="958" y="13">Gangil</text></g>
<g id="n-Yeonpung"><text class="k3" transform="rotate(185.18) rotate(-90)" x="958" y="13">Yeonpung</text></g>
<g id="n-Gemjeongolkong"><text class="k3" transform="rotate(187.15) rotate(-90)" x="958" y="13">Gemjeongolkong</text></g>
<g id="n-Mirang"><text class="k3" transform="rotate(189.12) rotate(-90)" x="958" y="13">Mirang</text></g>
<g id="n-Dajangkong"><text class="k3" transform="rotate(191.09) rotate(-90)" x="958" y="13">Dajangkong</text></g>
<g id="n-Ilmikong"><text class="k3" transform="rotate(193.06) rotate(-90)" x="958" y="13">Ilmikong</text></g>
<g id="n-Chekong"><text class="k3" transform="rotate(195.03) rotate(-90)" x="958" y="13">Chekong</text></g>
<g id="n-Cheongdu1"><text class="k3" transform="rotate(197) rotate(-90)" x="958" y="13">Cheongdu1</text></g>
<g id="n-Cheongja3"><text class="k3" transform="rotate(198.97) rotate(-90)" x="958" y="13">Cheongja3</text></g>
<g id="n-Cheonga"><text class="k3" transform="rotate(200.94) rotate(-90)" x="958" y="13">Cheonga</text></g>
<g id="n-Daemang"><text class="k3" transform="rotate(202.91) rotate(-90)" x="958" y="13">Daemang</text></g>
<g id="n-Daemang2"><text class="k3" transform="rotate(204.88) rotate(-90)" x="958" y="13">Daemang2</text></g>
<g id="n-Jinyang"><text class="k3 L" transform="rotate(206.85) rotate(90)" x="-958" y="13">Jinyang</text></g>
<g id="n-Manpoong"><text class="k3 L" transform="rotate(208.82) rotate(90)" x="-958" y="13">Manpoong</text></g>
<g id="n-Jinnong"><text class="k3 L" transform="rotate(210.79) rotate(90)" x="-958" y="13">Jinnong</text></g>
<g id="n-Sobaegnamulkong"><text class="k3 L" transform="rotate(212.76) rotate(90)" x="-958" y="13">Sobaegnamulkong</text></g>
<g id="n-Gaechuk1"><text class="k3 L" transform="rotate(214.73) rotate(90)" x="-958" y="13">Gaechuk1</text></g>
<g id="n-Gaechuk2"><text class="k3 L" transform="rotate(216.7) rotate(90)" x="-958" y="13">Gaechuk2</text></g>
<g id="n-Gyeongsang2"><text class="k3 L" transform="rotate(218.67) rotate(90)" x="-958" y="13">Gyeongsang2</text></g>
<g id="n-Gyeongsang3"><text class="k3 L" transform="rotate(220.64) rotate(90)" x="-958" y="13">Gyeongsang3</text></g>
<g id="n-Geomjeongkong3"><text class="k3 L" transform="rotate(222.61) rotate(90)" x="-958" y="13">Geomjeongkong3</text></g>
<g id="n-Cheongjakong"><text class="k3 L" transform="rotate(224.58) rotate(90)" x="-958" y="13">Cheongjakong</text></g>
<g id="n-Sunyu"><text class="k3 L" transform="rotate(226.55) rotate(90)" x="-958" y="13">Sunyu</text></g>
<g id="n-Jinyulkong"><text class="k3 L" transform="rotate(228.52) rotate(90)" x="-958" y="13">Jinyulkong</text></g>
<g id="n-Seonnogkong"><text class="k3 L" transform="rotate(230.49) rotate(90)" x="-958" y="13">Seonnogkong</text></g>
<g id="n-Neulchan"><text class="k4 L" transform="rotate(232.46) rotate(90)" x="-958" y="13">Neulchan</text></g>
<g id="n-Milyangkong"><text class="k4 L" transform="rotate(234.43) rotate(90)" x="-958" y="13">Milyangkong</text></g>
<g id="n-Gipung"><text class="k4 L" transform="rotate(236.4) rotate(90)" x="-958" y="13">Gipung</text></g>
<g id="n-Uram"><text class="k4 L" transform="rotate(238.37) rotate(90)" x="-958" y="13">Uram</text></g>
<g id="n-Soheug"><text class="k4 L" transform="rotate(240.34) rotate(90)" x="-958" y="13">Soheug</text></g>
<g id="n-Jangsukong"><text class="k4 L" transform="rotate(242.31) rotate(90)" x="-958" y="13">Jangsukong</text></g>
<g id="n-Samnamkong"><text class="k4 L" transform="rotate(244.28) rotate(90)" x="-958" y="13">Samnamkong</text></g>
<g id="n-Bongeui"><text class="k4 L" transform="rotate(246.25) rotate(90)" x="-958" y="13">Bongeui</text></g>
<g id="n-Kwangkyo"><text class="k4 L" transform="rotate(248.22) rotate(90)" x="-958" y="13">Kwangkyo</text></g>
<g id="n-Jangbeakkong"><text class="k4 L" transform="rotate(250.19) rotate(90)" x="-958" y="13">Jangbeakkong</text></g>
<g id="n-Taekwangkong"><text class="k4 L" transform="rotate(252.16) rotate(90)" x="-958" y="13">Taekwangkong</text></g>
<g id="n-GeumgangSorip"><text class="k4 L" transform="rotate(254.13) rotate(90)" x="-958" y="13">GeumgangSorip</text></g>
<g id="n-Hanol"><text class="k4 L" transform="rotate(256.1) rotate(90)" x="-958" y="13">Hanol</text></g>
<g id="n-Keumkangdaelip"><text class="k4 L" transform="rotate(258.07) rotate(90)" x="-958" y="13">Keumkangdaelip</text></g>
<g id="n-Wonhyun"><text class="k4 L" transform="rotate(260.04) rotate(90)" x="-958" y="13">Wonhyun</text></g>
<g id="n-Yukwoo3"><text class="k4 L" transform="rotate(262.01) rotate(90)" x="-958" y="13">Yukwoo3</text></g>
<g id="n-Buseok"><text class="k4 L" transform="rotate(263.98) rotate(90)" x="-958" y="13">Buseok</text></g>
<g id="n-Kwangdu"><text class="k4 L" transform="rotate(265.95) rotate(90)" x="-958" y="13">Kwangdu</text></g>
<g id="n-Daeha"><text class="k4 L" transform="rotate(267.92) rotate(90)" x="-958" y="13">Daeha</text></g>
<g id="n-Hwaeomputkong"><text class="k4 L" transform="rotate(269.89) rotate(90)" x="-958" y="13">Hwaeomputkong</text></g>
<g id="n-Chungbukbaek"><text class="k4 L" transform="rotate(271.86) rotate(90)" x="-958" y="13">Chungbukbaek</text></g>
<g id="n-Hill"><text class="k4 L" transform="rotate(273.83) rotate(90)" x="-958" y="13">Hill</text></g>
<g id="n-Saedanbaek"><text class="k4 L" transform="rotate(275.8) rotate(90)" x="-958" y="13">Saedanbaek</text></g>
<g id="n-Baegcheon"><text class="k4 L" transform="rotate(277.77) rotate(90)" x="-958" y="13">Baegcheon</text></g>
<g id="n-Kanglim"><text class="k4 L" transform="rotate(279.74) rotate(90)" x="-958" y="13">Kanglim</text></g>
<g id="n-Mallikong"><text class="k4 L" transform="rotate(281.71) rotate(90)" x="-958" y="13">Mallikong</text></g>
<g id="n-JangYon"><text class="k4 L" transform="rotate(283.68) rotate(90)" x="-958" y="13">JangYon</text></g>
<g id="n-Jangkyongkong"><text class="k4 L" transform="rotate(285.65) rotate(90)" x="-958" y="13">Jangkyongkong</text></g>
<g id="n-Jangyeobkong"><text class="k4 L" transform="rotate(287.62) rotate(90)" x="-958" y="13">Jangyeobkong</text></g>
<g id="n-Pokwangkong"><text class="k4 L" transform="rotate(289.59) rotate(90)" x="-958" y="13">Pokwangkong</text></g>
<g id="n-Soyangkong"><text class="k4 L" transform="rotate(291.56) rotate(90)" x="-958" y="13">Soyangkong</text></g>
<g id="n-Dankyeongkong"><text class="k4 L" transform="rotate(293.53) rotate(90)" x="-958" y="13">Dankyeongkong</text></g>
<g id="n-Shinpaldalkong"><text class="k4 L" transform="rotate(295.5) rotate(90)" x="-958" y="13">Shinpaldalkong</text></g>
<g id="n-Danweonkong"><text class="k4 L" transform="rotate(297.47) rotate(90)" x="-958" y="13">Danweonkong</text></g>
<g id="n-Muhankong"><text class="k4 L" transform="rotate(299.44) rotate(90)" x="-958" y="13">Muhankong</text></g>
<g id="n-Namhaekong"><text class="k4 L" transform="rotate(301.41) rotate(90)" x="-958" y="13">Namhaekong</text></g>
<g id="n-Jangdanbaekmok"><text class="k4 L" transform="rotate(303.38) rotate(90)" x="-958" y="13">Jangdanbaekmok</text></g>
<g id="n-Paldalkong"><text class="k4 L" transform="rotate(305.35) rotate(90)" x="-958" y="13">Paldalkong</text></g>
<g id="n-Saealkong"><text class="k4 L" transform="rotate(307.32) rotate(90)" x="-958" y="13">Saealkong</text></g>
<g id="n-Socheong"><text class="k4 L" transform="rotate(309.29) rotate(90)" x="-958" y="13">Socheong</text></g>
<g id="n-Haman"><text class="k4 L" transform="rotate(311.26) rotate(90)" x="-958" y="13">Haman</text></g>
<g id="n-Paldo"><text class="k4 L" transform="rotate(313.23) rotate(90)" x="-958" y="13">Paldo</text></g>
<g id="n-Daewangkong"><text class="k4 L" transform="rotate(315.2) rotate(90)" x="-958" y="13">Daewangkong</text></g>
<g id="n-Hoban"><text class="k4 L" transform="rotate(317.17) rotate(90)" x="-958" y="13">Hoban</text></g>
<g id="n-Dongpuktae"><text class="k4 L" transform="rotate(319.14) rotate(90)" x="-958" y="13">Dongpuktae</text></g>
<g id="n-Namcheonkong"><text class="k4 L" transform="rotate(321.11) rotate(90)" x="-958" y="13">Namcheonkong</text></g>
<g id="n-Jinmikong"><text class="k5 L" transform="rotate(323.08) rotate(90)" x="-958" y="13">Jinmikong</text></g>
<g id="n-sohokong"><text class="k5 L" transform="rotate(325.05) rotate(90)" x="-958" y="13">sohokong</text></g>
<g id="n-Cheonsang"><text class="k5 L" transform="rotate(327.02) rotate(90)" x="-958" y="13">Cheonsang</text></g>
<g id="n-Daewonkong"><text class="k5 L" transform="rotate(328.99) rotate(90)" x="-958" y="13">Daewonkong</text></g>
<g id="n-Gemjeongkong1"><text class="k5 L" transform="rotate(330.96) rotate(90)" x="-958" y="13">Gemjeongkong1</text></g>
<g id="n-Geomjeongkong2"><text class="k5 L" transform="rotate(332.93) rotate(90)" x="-958" y="13">Geomjeongkong2</text></g>
<g id="n-Tawonkong"><text class="k5 L" transform="rotate(334.9) rotate(90)" x="-958" y="13">Tawonkong</text></g>
<g id="n-Nogchae"><text class="k5 L" transform="rotate(336.87) rotate(90)" x="-958" y="13">Nogchae</text></g>
<g id="n-Sokang"><text class="k5 L" transform="rotate(338.84) rotate(90)" x="-958" y="13">Sokang</text></g>
</g>
</g>
</svg>
